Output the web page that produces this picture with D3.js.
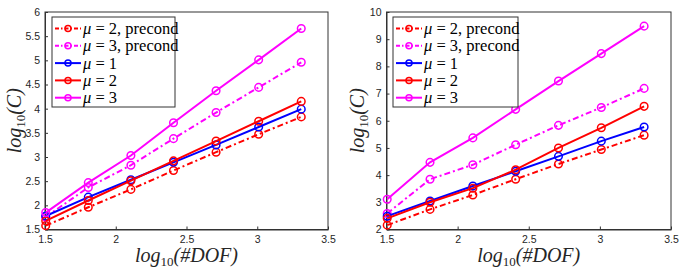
<!DOCTYPE html>
<html>
<head>
<meta charset="utf-8">
<script src="https://cdn.jsdelivr.net/npm/d3@7"></script>
<style>
  body { margin: 0; background: #fff; }
  .tick text { font-family: "Liberation Sans", Arial, sans-serif; font-size: 10.5px; fill: #262626; }
  .lbl { font-family: "Liberation Serif", "DejaVu Serif", serif; font-style: italic; fill: #262626; }
  .leg { font-family: "Liberation Serif", "DejaVu Serif", serif; font-size: 16.5px; fill: #000; }
</style>
</head>
<body>
<svg id="chart" width="683" height="270"></svg>
<script>
// x = log10(#DOF)
var dof = [1.505, 1.806, 2.107, 2.408, 2.709, 3.010, 3.311];

// left panel
var leftMu2Pre = [1.58, 1.96, 2.33, 2.72, 3.10, 3.47, 3.83];
var leftMu3Pre = [1.76, 2.37, 2.83, 3.38, 3.92, 4.44, 4.96];
var leftMu1 = [1.78, 2.17, 2.53, 2.89, 3.25, 3.62, 3.99];
var leftMu2 = [1.68, 2.10, 2.51, 2.92, 3.33, 3.74, 4.15];
var leftMu3 = [1.85, 2.47, 3.03, 3.71, 4.37, 5.01, 5.66];

// right panel
var rightMu2Pre = [2.16, 2.74, 3.27, 3.85, 4.41, 4.94, 5.47];
var rightMu3Pre = [2.59, 3.85, 4.38, 5.12, 5.83, 6.49, 7.19];
var rightMu1 = [2.49, 3.05, 3.60, 4.14, 4.69, 5.25, 5.77];
var rightMu2 = [2.41, 3.00, 3.52, 4.20, 5.00, 5.74, 6.53];
var rightMu3 = [3.11, 4.47, 5.37, 6.42, 7.46, 8.47, 9.48];

var xTicks = [1.5, 2, 2.5, 3, 3.5];
var leftYTicks = [1.5, 2, 2.5, 3, 3.5, 4, 4.5, 5, 5.5, 6];
var rightYTicks = [2, 3, 4, 5, 6, 7, 8, 9, 10];

var seriesStyle = [
  { name: "2, precond", color: "#ff0000", dash: "6,3,2,3" },
  { name: "3, precond", color: "#ff00ff", dash: "6,3,2,3" },
  { name: "1", color: "#0000ff", dash: null },
  { name: "2", color: "#ff0000", dash: null },
  { name: "3", color: "#ff00ff", dash: null }
];

var svg = d3.select("#chart");

function panel(opts) {
  var g = svg.append("g");
  var x = d3.scaleLinear().domain([1.5, 3.5]).range([opts.x0, opts.x1]);
  var y = d3.scaleLinear().domain(opts.yDomain).range([opts.y1, opts.y0]);

  g.append("rect")
    .attr("x", opts.x0).attr("y", opts.y0)
    .attr("width", opts.x1 - opts.x0).attr("height", opts.y1 - opts.y0)
    .attr("fill", "none").attr("stroke", "#333").attr("stroke-width", 1);

  var xAxis = g.append("g")
    .attr("transform", "translate(0," + opts.y1 + ")")
    .call(d3.axisBottom(x).tickValues(xTicks).tickSizeInner(-3).tickSizeOuter(0).tickPadding(6).tickFormat(d3.format("")));
  var yAxis = g.append("g")
    .attr("transform", "translate(" + opts.x0 + ",0)")
    .call(d3.axisLeft(y).tickValues(opts.yTicks).tickSizeInner(-3).tickSizeOuter(0).tickPadding(5).tickFormat(d3.format("")));
  [xAxis, yAxis].forEach(function (a) {
    a.select(".domain").attr("stroke", "#333");
    a.selectAll(".tick line").attr("stroke", "#333");
  });

  var line = d3.line()
    .x(function (d, i) { return x(dof[i]); })
    .y(function (d) { return y(d); });

  opts.data.forEach(function (vals, k) {
    var s = seriesStyle[k];
    g.append("path")
      .attr("d", line(vals))
      .attr("fill", "none")
      .attr("stroke", s.color)
      .attr("stroke-width", 2)
      .attr("stroke-dasharray", s.dash);
    g.selectAll(null).data(vals).enter().append("circle")
      .attr("cx", function (d, i) { return x(dof[i]); })
      .attr("cy", function (d) { return y(d); })
      .attr("r", 3.8)
      .attr("fill", "none")
      .attr("stroke", s.color)
      .attr("stroke-width", 1.5);
  });

  // legend
  var lg = g.append("g");
  lg.append("rect")
    .attr("x", opts.lx).attr("y", 17)
    .attr("width", opts.lw).attr("height", 90)
    .attr("fill", "#fff").attr("stroke", "#333").attr("stroke-width", 1);
  seriesStyle.forEach(function (s, k) {
    var yy = 28.5 + k * 17.3;
    lg.append("line")
      .attr("x1", opts.lx + 3).attr("x2", opts.lx + 29)
      .attr("y1", yy).attr("y2", yy)
      .attr("stroke", s.color).attr("stroke-width", 2)
      .attr("stroke-dasharray", s.dash ? "4,2,1.5,2" : null);
    lg.append("circle")
      .attr("cx", opts.lx + 16).attr("cy", yy).attr("r", 3)
      .attr("fill", "none").attr("stroke", s.color).attr("stroke-width", 1.5);
    var t = lg.append("text").attr("class", "leg")
      .attr("x", opts.lx + 31).attr("y", yy + 5.5);
    t.append("tspan").attr("font-style", "italic").text("\u03bc");
    t.append("tspan").text(" = " + s.name);
  });

  // axis labels
  var xl = g.append("text").attr("class", "lbl")
    .attr("x", (opts.x0 + opts.x1) / 2).attr("y", 262)
    .attr("text-anchor", "middle").attr("font-size", 20);
  xl.append("tspan").text("log");
  xl.append("tspan").attr("font-size", 13).attr("font-style", "normal").attr("dy", 4).text("10");
  xl.append("tspan").attr("dy", -4).text("(#DOF)");

  var yl = g.append("text").attr("class", "lbl")
    .attr("transform", "translate(" + opts.ylx + "," + (opts.y0 + opts.y1) / 2 + ") rotate(-90)")
    .attr("text-anchor", "middle").attr("font-size", 20);
  yl.append("tspan").text("log");
  yl.append("tspan").attr("font-size", 13).attr("font-style", "normal").attr("dy", 4).text("10");
  yl.append("tspan").attr("dy", -4).text("(C)");
}

panel({
  x0: 45, x1: 328, y0: 12, y1: 229.5,
  yDomain: [1.5, 6], yTicks: leftYTicks,
  data: [leftMu2Pre, leftMu3Pre, leftMu1, leftMu2, leftMu3],
  lx: 52, lw: 123, ylx: 21
});
panel({
  x0: 386.5, x1: 671, y0: 12, y1: 229.5,
  yDomain: [2, 10], yTicks: rightYTicks,
  data: [rightMu2Pre, rightMu3Pre, rightMu1, rightMu2, rightMu3],
  lx: 393, lw: 125, ylx: 364
});
</script>
</body>
</html>
